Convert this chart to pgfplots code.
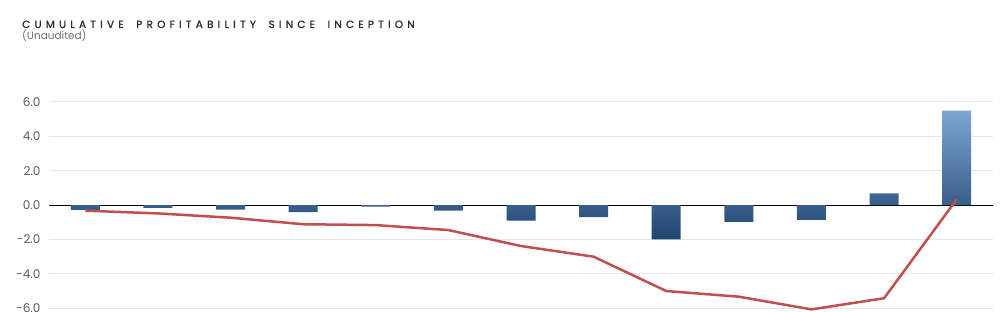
\documentclass[border=0pt]{standalone}
\usepackage{pgfplots}
\pgfplotsset{compat=1.18}
\usepackage{fontspec}
\setmainfont{Poppins}
\newfontfamily\titlefont[LetterSpace=40, FakeBold=1.2, WordSpace=1.8]{Poppins}
\definecolor{barlight}{RGB}{126,166,210}
\definecolor{bardark}{RGB}{30,68,112}
\definecolor{linered}{RGB}{192,80,77}
\definecolor{gridgray}{RGB}{230,230,230}
\definecolor{ticktext}{RGB}{90,90,90}
\definecolor{titletext}{RGB}{45,45,45}
\definecolor{subtext}{RGB}{110,110,110}
\begin{document}
\begin{tikzpicture}[x=1pt,y=1pt]
\clip (0,0) rectangle (1000,311);
\useasboundingbox (0,0) rectangle (1000,311);
\node[anchor=base west, inner sep=0pt, text=titletext] at (22,283) {\titlefont\fontsize{10.5}{12}\selectfont CUMULATIVE PROFITABILITY SINCE INCEPTION};
\node[anchor=base west, inner sep=0pt, text=subtext] at (22,271) {\fontsize{10.5}{12}\selectfont (Unaudited)};
\begin{axis}[
  at={(49pt,-0.45pt)}, anchor=south west,
  scale only axis, width=944pt, height=212.9pt,
  xmin=-0.5, xmax=12.5, ymin=-6.2, ymax=6.2,
  axis line style={draw=none},
  xtick=\empty,
  ytick={-6,-4,-2,0,2,4,6},
  yticklabels={-6.0,-4.0,-2.0,0.0,2.0,4.0,6.0},
  yticklabel style={font=\fontsize{12}{14}\selectfont, text=ticktext, xshift=-5pt},
  major tick length=0pt,
  ymajorgrids, grid style={gridgray, line width=1pt},
  extra y ticks={0}, extra y tick labels={},
  extra y tick style={grid style={black, line width=1pt}},
  clip=false,
]
\addplot[ybar, bar width=29pt, draw=none, top color=barlight, bottom color=bardark] coordinates {
(0,-0.29) (1,-0.17) (2,-0.27) (3,-0.41) (4,-0.10) (5,-0.33) (6,-0.91)
(7,-0.70) (8,-2.00) (9,-0.99) (10,-0.87) (11,0.68) (12,5.50)};
\addplot[linered, line width=2.5pt, sharp plot, mark=none] coordinates {
(0,-0.33) (1,-0.49) (2,-0.74) (3,-1.12) (4,-1.17) (5,-1.46) (6,-2.39)
(7,-3.01) (8,-5.01) (9,-5.34) (10,-6.08) (11,-5.43) (12,0.33)};
\end{axis}
\end{tikzpicture}
\end{document}
